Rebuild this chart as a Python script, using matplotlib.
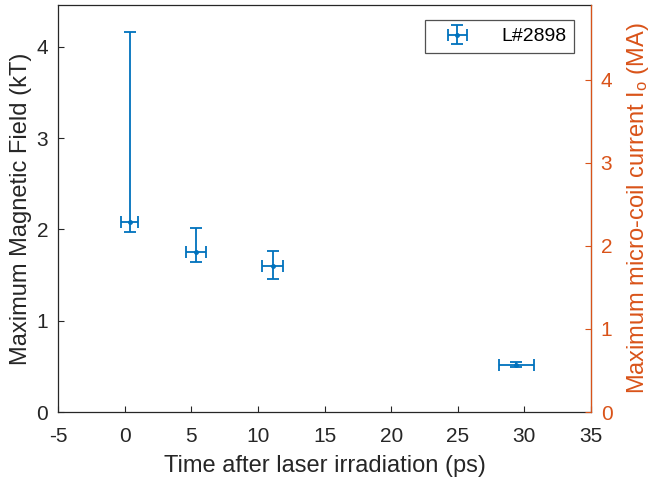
import numpy as np
import matplotlib.pyplot as plt

plt.rcParams['font.family'] = ['Liberation Sans', 'DejaVu Sans']
plt.rcParams['mathtext.fontset'] = 'custom'
plt.rcParams['mathtext.rm'] = 'Liberation Sans'
plt.rcParams['mathtext.it'] = 'Liberation Sans'
plt.rcParams['axes.unicode_minus'] = False

# Data
time_ps = [0.40, 5.35, 11.1, 29.4]
time_err = [0.64, 0.75, 0.81, 1.31]
b_field = [2.08, 1.75, 1.60, 0.52]
b_err_low = [0.11, 0.11, 0.14, 0.03]
b_err_up = [2.08, 0.27, 0.16, 0.03]

blue = '#0072BD'
orange = '#D95319'
dark = '#262626'

fig = plt.figure(figsize=(6.54, 4.90), dpi=100)
ax = fig.add_axes([0.0887, 0.159, 0.815, 0.831])

ax.errorbar(time_ps, b_field, yerr=[b_err_low, b_err_up], xerr=time_err,
            fmt='.', color=blue, ecolor=blue, elinewidth=1.3, capsize=4.5,
            capthick=1.3, markersize=5, label='L#2898')

ax.set_xlim(-5, 35)
ax.set_ylim(0, 4.46)
ax.set_xticks(np.arange(-5, 36, 5))
ax.set_yticks([0, 1, 2, 3, 4])
ax.tick_params(direction='in', length=4, width=0.8, colors=dark, labelsize=15,
               pad=7)
ax.tick_params(axis='x', pad=11)
ax.set_xlabel('Time after laser irradiation (ps)', fontsize=17, color=dark,
              labelpad=6)
ax.set_ylabel('Maximum Magnetic Field (kT)', fontsize=17, color=dark,
              labelpad=3)
for s in ['left', 'bottom', 'top']:
    ax.spines[s].set_color(dark)
    ax.spines[s].set_linewidth(0.9)

# Right axis: coil current
ax2 = ax.twinx()
ax2.set_ylim(0, 4.9)
ax2.set_yticks([0, 1, 2, 3, 4])
ax2.tick_params(direction='in', length=4, width=0.8, colors=orange,
                labelsize=15, pad=7)
ax2.set_ylabel(r'Maximum micro-coil current I$_{\rm o}$ (MA)', fontsize=17,
               color=orange, labelpad=9)
ax2.spines['right'].set_color(orange)
ax2.spines['right'].set_linewidth(0.9)
for s in ['left', 'bottom', 'top']:
    ax2.spines[s].set_visible(False)

leg = ax.legend(loc='upper right', fontsize=14, frameon=True, fancybox=False,
                edgecolor=dark, borderpad=0.4, handlelength=2.5,
                handletextpad=1.0, borderaxespad=0,
                bbox_to_anchor=(0.968, 0.963))
leg.get_frame().set_linewidth(0.9)

fig.savefig('out.png', dpi=100)
